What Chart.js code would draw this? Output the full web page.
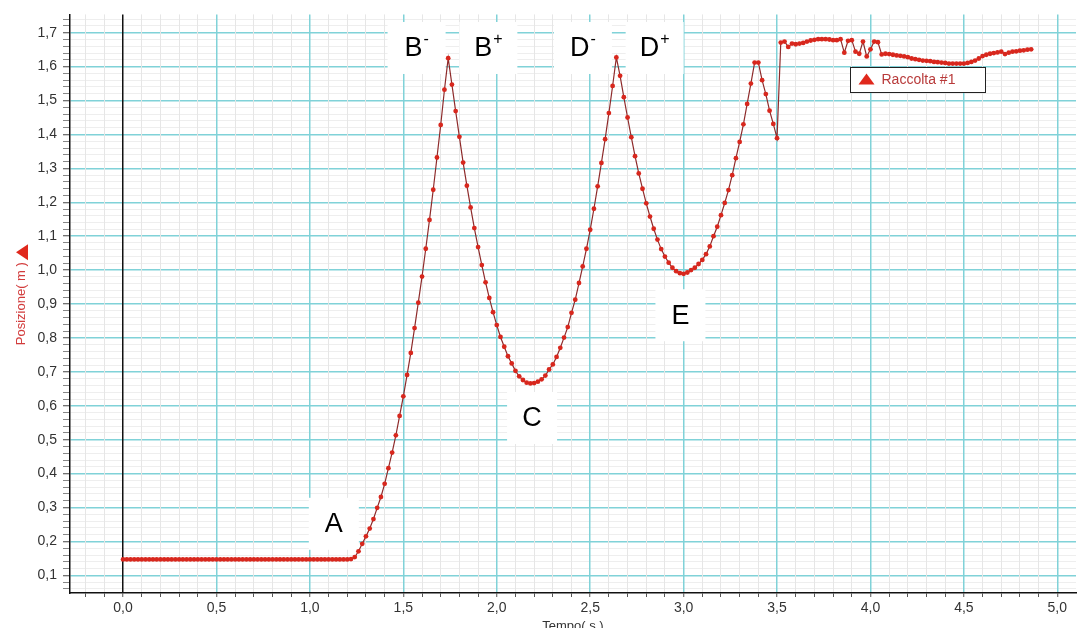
<!DOCTYPE html>
<html>
<head>
<meta charset="utf-8">
<script src="https://cdn.jsdelivr.net/npm/chart.js@4.4.0/dist/chart.umd.min.js"></script>
<style>
  body { margin: 0; background: #fff; }
  canvas { display: block; }
</style>
</head>
<body>
<canvas id="motoChart" width="1080" height="628"></canvas>
<script>
// tempo (s) e posizione (m), un campione ogni 0,02 s
let tempo = [
  0, 0.02, 0.04, 0.06, 0.08, 0.1, 0.12, 0.14, 0.16, 0.18,
  0.2, 0.22, 0.24, 0.26, 0.28, 0.3, 0.32, 0.34, 0.36, 0.38,
  0.4, 0.42, 0.44, 0.46, 0.48, 0.5, 0.52, 0.54, 0.56, 0.58,
  0.6, 0.62, 0.64, 0.66, 0.68, 0.7, 0.72, 0.74, 0.76, 0.78,
  0.8, 0.82, 0.84, 0.86, 0.88, 0.9, 0.92, 0.94, 0.96, 0.98,
  1.0, 1.02, 1.04, 1.06, 1.08, 1.1, 1.12, 1.14, 1.16, 1.18,
  1.2, 1.22, 1.24, 1.26, 1.28, 1.3, 1.32, 1.34, 1.36, 1.38,
  1.4, 1.42, 1.44, 1.46, 1.48, 1.5, 1.52, 1.54, 1.56, 1.58,
  1.6, 1.62, 1.64, 1.66, 1.68, 1.7, 1.72, 1.74, 1.76, 1.78,
  1.8, 1.82, 1.84, 1.86, 1.88, 1.9, 1.92, 1.94, 1.96, 1.98,
  2.0, 2.02, 2.04, 2.06, 2.08, 2.1, 2.12, 2.14, 2.16, 2.18,
  2.2, 2.22, 2.24, 2.26, 2.28, 2.3, 2.32, 2.34, 2.36, 2.38,
  2.4, 2.42, 2.44, 2.46, 2.48, 2.5, 2.52, 2.54, 2.56, 2.58,
  2.6, 2.62, 2.64, 2.66, 2.68, 2.7, 2.72, 2.74, 2.76, 2.78,
  2.8, 2.82, 2.84, 2.86, 2.88, 2.9, 2.92, 2.94, 2.96, 2.98,
  3.0, 3.02, 3.04, 3.06, 3.08, 3.1, 3.12, 3.14, 3.16, 3.18,
  3.2, 3.22, 3.24, 3.26, 3.28, 3.3, 3.32, 3.34, 3.36, 3.38,
  3.4, 3.42, 3.44, 3.46, 3.48, 3.5, 3.52, 3.54, 3.56, 3.58,
  3.6, 3.62, 3.64, 3.66, 3.68, 3.7, 3.72, 3.74, 3.76, 3.78,
  3.8, 3.82, 3.84, 3.86, 3.88, 3.9, 3.92, 3.94, 3.96, 3.98,
  4.0, 4.02, 4.04, 4.06, 4.08, 4.1, 4.12, 4.14, 4.16, 4.18,
  4.2, 4.22, 4.24, 4.26, 4.28, 4.3, 4.32, 4.34, 4.36, 4.38,
  4.4, 4.42, 4.44, 4.46, 4.48, 4.5, 4.52, 4.54, 4.56, 4.58,
  4.6, 4.62, 4.64, 4.66, 4.68, 4.7, 4.72, 4.74, 4.76, 4.78,
  4.8, 4.82, 4.84, 4.86
];

let posizione = [
  0.147, 0.147, 0.147, 0.147, 0.147, 0.147, 0.147, 0.147, 0.147, 0.147,
  0.147, 0.147, 0.147, 0.147, 0.147, 0.147, 0.147, 0.147, 0.147, 0.147,
  0.147, 0.147, 0.147, 0.147, 0.147, 0.147, 0.147, 0.147, 0.147, 0.147,
  0.147, 0.147, 0.147, 0.147, 0.147, 0.147, 0.147, 0.147, 0.147, 0.147,
  0.147, 0.147, 0.147, 0.147, 0.147, 0.147, 0.147, 0.147, 0.147, 0.147,
  0.147, 0.147, 0.147, 0.147, 0.147, 0.147, 0.147, 0.147, 0.147, 0.147,
  0.147, 0.148, 0.154, 0.171, 0.193, 0.215, 0.238, 0.266, 0.299, 0.331,
  0.370, 0.416, 0.462, 0.513, 0.570, 0.628, 0.691, 0.756, 0.829, 0.904,
  0.981, 1.063, 1.148, 1.237, 1.332, 1.428, 1.532, 1.625, 1.547, 1.469,
  1.393, 1.317, 1.249, 1.185, 1.124, 1.068, 1.015, 0.964, 0.918, 0.876,
  0.838, 0.803, 0.774, 0.746, 0.725, 0.703, 0.687, 0.676, 0.668, 0.666,
  0.667, 0.671, 0.678, 0.689, 0.707, 0.722, 0.744, 0.771, 0.801, 0.832,
  0.874, 0.913, 0.962, 1.011, 1.063, 1.119, 1.181, 1.247, 1.316, 1.386,
  1.463, 1.543, 1.627, 1.573, 1.510, 1.450, 1.392, 1.336, 1.285, 1.240,
  1.197, 1.158, 1.122, 1.090, 1.062, 1.040, 1.022, 1.007, 0.997, 0.991,
  0.989, 0.993, 1.000, 1.007, 1.018, 1.030, 1.047, 1.070, 1.100, 1.128,
  1.162, 1.198, 1.236, 1.280, 1.330, 1.378, 1.430, 1.490, 1.550, 1.612,
  1.612, 1.560, 1.519, 1.470, 1.431, 1.389, 1.671, 1.674, 1.658, 1.668,
  1.666, 1.668, 1.670, 1.674, 1.677, 1.679, 1.681, 1.681, 1.681, 1.680,
  1.678, 1.678, 1.681, 1.641, 1.676, 1.678, 1.644, 1.638, 1.674, 1.630,
  1.651, 1.674, 1.672, 1.636, 1.638, 1.637, 1.635, 1.633, 1.632, 1.630,
  1.628, 1.624, 1.622, 1.620, 1.618, 1.617, 1.616, 1.614, 1.613, 1.612,
  1.611, 1.609, 1.609, 1.609, 1.609, 1.609, 1.611, 1.614, 1.618, 1.624,
  1.631, 1.635, 1.638, 1.640, 1.642, 1.644, 1.637, 1.641, 1.644, 1.645,
  1.647, 1.648, 1.650, 1.651
];

// punti notevoli del moto (lettera, apice, tempo, posizione)
let punti = ['A', 'B', 'B', 'C', 'D', 'D', 'E'];
let apici = ['', '-', '+', '', '-', '+', ''];
let puntiT = [1.128, 1.571, 1.955, 2.189, 2.461, 2.845, 2.983];
let puntiY = [0.252, 1.655, 1.655, 0.564, 1.655, 1.655, 0.867];

const FONT = '"Liberation Sans", Arial, sans-serif';
const CIANO = 'rgb(128,210,216)';

function virgola(v) {
  return v.toFixed(1).replace('.', ',');
}

// box bianchi con le lettere dei punti notevoli
const puntiPlugin = {
  id: 'puntiNotevoli',
  beforeDatasetsDraw(chart) {
    const { ctx, scales: { x, y } } = chart;
    ctx.save();
    ctx.textBaseline = 'middle';
    ctx.textAlign = 'left';
    for (let i = 0; i < punti.length; i++) {
      const px = x.getPixelForValue(puntiT[i]);
      const py = y.getPixelForValue(puntiY[i]);
      const w = apici[i] ? 58 : 50;
      ctx.fillStyle = '#fff';
      ctx.fillRect(px - w / 2, py - 26, w, 52);
      ctx.font = '27px ' + FONT;
      const lw = ctx.measureText(punti[i]).width;
      ctx.font = '16px ' + FONT;
      const sw = apici[i] ? ctx.measureText(apici[i]).width + 1 : 0;
      const sx = px - (lw + sw) / 2;
      ctx.fillStyle = '#000';
      ctx.font = '27px ' + FONT;
      ctx.fillText(punti[i], sx, py + 1);
      if (apici[i]) {
        ctx.font = '16px ' + FONT;
        ctx.fillText(apici[i], sx + lw + 1, py - 8);
      }
    }
    ctx.restore();
  }
};

// legenda a riquadro dentro il grafico e triangolo del titolo asse y
const legendaPlugin = {
  id: 'legendaRiquadro',
  afterDatasetsDraw(chart) {
    const { ctx, chartArea, scales: { x, y } } = chart;
    const bx = Math.round(x.getPixelForValue(3.89)) + 0.5;
    const by = Math.round(y.getPixelForValue(1.599)) + 0.5;
    ctx.save();
    ctx.fillStyle = '#fff';
    ctx.fillRect(bx, by, 135, 25);
    ctx.strokeStyle = '#222';
    ctx.lineWidth = 1;
    ctx.strokeRect(bx, by, 135, 25);
    ctx.fillStyle = '#e0281c';
    ctx.beginPath();
    ctx.moveTo(bx + 8, by + 17);
    ctx.lineTo(bx + 24, by + 17);
    ctx.lineTo(bx + 16, by + 6);
    ctx.closePath();
    ctx.fill();
    ctx.fillStyle = '#b83a3a';
    ctx.font = '14px ' + FONT;
    ctx.textBaseline = 'middle';
    ctx.fillText(chart.data.datasets[0].label, bx + 31, by + 13);

    // triangolo rosso sopra il titolo verticale
    ctx.font = '13px ' + FONT;
    const tw = ctx.measureText(y.options.title.text).width;
    const cy = (chartArea.top + chartArea.bottom) / 2 - tw / 2 - 10;
    const cx = 22;
    ctx.fillStyle = '#e0281c';
    ctx.beginPath();
    ctx.moveTo(cx + 6, cy - 8);
    ctx.lineTo(cx + 6, cy + 8);
    ctx.lineTo(cx - 6, cy);
    ctx.closePath();
    ctx.fill();
    ctx.restore();
  }
};

const ctx = document.getElementById('motoChart').getContext('2d');
const motoChart = new Chart(ctx, {
  type: 'line',
  data: {
    datasets: [{
      label: 'Raccolta #1',
      data: tempo.map((t, i) => ({ x: t, y: posizione[i] })),
      borderColor: '#8e2b2b',
      borderWidth: 1.2,
      pointRadius: 2.4,
      pointBackgroundColor: '#d8271d',
      pointBorderWidth: 0,
      tension: 0
    }]
  },
  options: {
    responsive: false,
    animation: false,
    layout: { padding: { top: 14, right: 0, left: 0, bottom: 0 } },
    plugins: {
      legend: { display: false },
      tooltip: { enabled: false }
    },
    scales: {
      x: {
        type: 'linear',
        min: -0.284,
        max: 5.1,
        afterFit(s) { s.height = 35; },
        border: { color: '#111', width: 1.5 },
        grid: {
          z: -1,
          color: c => {
            const v = Math.round(c.tick.value * 10);
            if (v === 0) return '#111';
            return v % 5 === 0 ? CIANO : '#e6e6e6';
          },
          lineWidth: c => {
            const v = Math.round(c.tick.value * 10);
            return v % 5 === 0 ? 1.5 : 1;
          },
          tickColor: '#555',
          tickLength: 4,
          tickWidth: 1
        },
        ticks: {
          stepSize: 0.1,
          includeBounds: false,
          autoSkip: false,
          maxRotation: 0,
          padding: 3,
          color: '#333',
          font: { family: FONT, size: 14 },
          callback: v => Math.round(v * 10) % 5 === 0 ? virgola(v) : ''
        },
        title: {
          display: true,
          text: 'Tempo( s )',
          color: '#333',
          font: { family: FONT, size: 13 },
          padding: { top: 0, bottom: -6 }
        }
      },
      y: {
        type: 'linear',
        min: 0.048,
        max: 1.754,
        afterFit(s) { s.width = 70; },
        border: { color: '#111', width: 1.5 },
        grid: {
          z: -2,
          color: c => Math.round(c.tick.value * 100) % 10 === 0 ? CIANO : '#eeeeee',
          lineWidth: c => Math.round(c.tick.value * 100) % 10 === 0 ? 1.5 : 1,
          tickColor: c => Math.round(c.tick.value * 100) % 10 === 0 ? '#444' : '#888',
          tickLength: 7,
          tickWidth: 1
        },
        ticks: {
          stepSize: 0.02,
          includeBounds: false,
          autoSkip: false,
          padding: 6,
          color: '#333',
          font: { family: FONT, size: 14 },
          callback: v => Math.round(v * 100) % 10 === 0 ? virgola(v) : ''
        },
        title: {
          display: true,
          text: 'Posizione( m )',
          color: '#d23c3c',
          font: { family: FONT, size: 13 },
          padding: { top: 14, bottom: 0 }
        }
      }
    }
  },
  plugins: [puntiPlugin, legendaPlugin]
});
</script>
</body>
</html>
